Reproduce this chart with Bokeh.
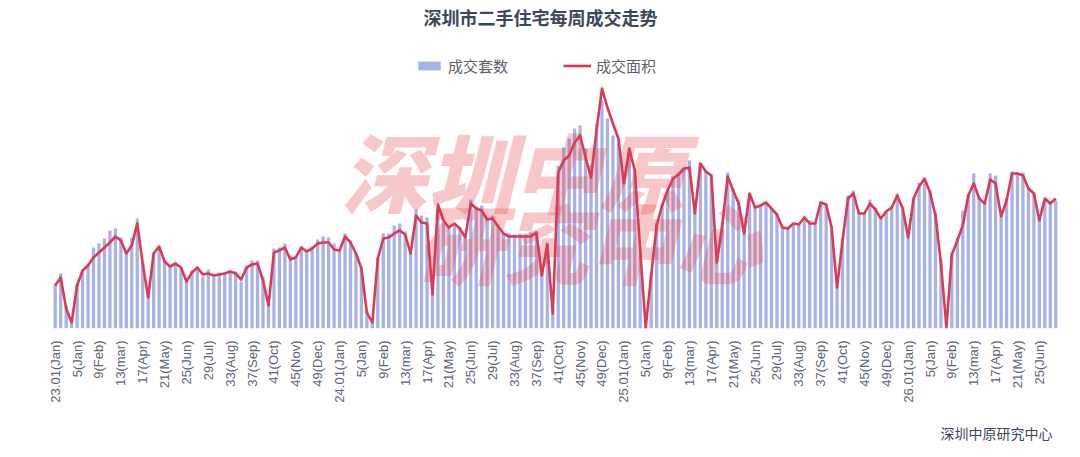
from math import pi

from bokeh.core.properties import value
from bokeh.embed import file_html
from bokeh.models import FixedTicker, Legend, LegendItem, Range1d, Title
from bokeh.plotting import figure
from bokeh.resources import INLINE

# weekly second-hand home deals, Shenzhen, 2023 wk1 .. 2026 wk28
sets = [
    450, 550, 230, 80, 450, 580, 650, 810, 850, 900,
    980, 1000, 910, 780, 910, 1100, 660, 330, 760, 800,
    680, 630, 660, 600, 480, 580, 590, 520, 590, 520,
    560, 560, 580, 570, 470, 620, 680, 680, 520, 250,
    800, 810, 850, 730, 720, 820, 760, 820, 890, 920,
    910, 850, 790, 950, 880, 750, 620, 180, 70, 710,
    950, 950, 1030, 1050, 970, 760, 1190, 1130, 1110, 360,
    1200, 1060, 1030, 1030, 1010, 920, 1290, 1220, 1230, 1110,
    1130, 1040, 950, 950, 940, 950, 940, 960, 970, 560,
    860, 180, 1630, 1810, 1900, 2000, 2030, 1800, 1630, 2050,
    2280, 2100, 1930, 1850, 1480, 1750, 1580, 730, 30, 560,
    1060, 1250, 1400, 1520, 1560, 1610, 1680, 1180, 1660, 1580,
    1540, 700, 1060, 1560, 1400, 1280, 980, 1320, 1220, 1230,
    1250, 1200, 1150, 1010, 1000, 1040, 1050, 1100, 1080, 1060,
    1270, 1240, 1030, 430, 900, 1330, 1380, 1160, 1160, 1290,
    1210, 1120, 1180, 1220, 1350, 1220, 930, 1310, 1460, 1480,
    1380, 1160, 700, 10, 760, 910, 1180, 1350, 1550, 1310,
    1260, 1550, 1530, 1140, 1300, 1570, 1560, 1560, 1410, 1360,
    1100, 1280, 1250, 1280,
]

# 成交面积, 万㎡
area = [
    4.3, 5.1, 2.0, 0.6, 4.3, 5.8, 6.3, 7.1, 7.6, 8.1,
    8.6, 9.2, 8.8, 7.5, 8.3, 10.5, 6.5, 3.1, 7.5, 8.2,
    6.7, 6.2, 6.5, 6.1, 4.7, 5.6, 6.1, 5.4, 5.5, 5.3,
    5.4, 5.5, 5.7, 5.5, 4.9, 6.1, 6.4, 6.5, 4.8, 2.3,
    7.6, 7.8, 8.1, 6.9, 7.1, 8.1, 7.7, 8.0, 8.5, 8.6,
    8.6, 7.9, 7.8, 9.2, 8.6, 7.5, 6.0, 1.6, 0.6, 7.0,
    9.0, 9.1, 9.5, 9.8, 9.4, 7.5, 11.3, 10.6, 10.5, 3.4,
    12.4, 10.8, 10.1, 10.5, 10.0, 9.1, 12.5, 12.0, 11.8, 10.9,
    11.0, 10.2, 9.5, 9.2, 9.2, 9.2, 9.2, 9.2, 9.6, 5.3,
    8.4, 1.5, 15.6, 16.8, 17.3, 18.6, 19.3, 17.1, 15.1, 19.8,
    24.0, 22.1, 20.5, 19.0, 14.5, 18.0, 15.8, 7.8, 0.1, 5.3,
    10.3, 12.3, 13.8, 15.0, 15.4, 16.0, 16.1, 11.5, 16.5, 15.7,
    15.3, 6.6, 10.3, 15.2, 13.8, 12.5, 9.5, 13.5, 12.1, 12.3,
    12.6, 12.0, 11.4, 10.1, 10.0, 10.5, 10.4, 11.1, 10.5, 10.5,
    12.6, 12.4, 10.1, 4.1, 8.8, 13.0, 13.5, 11.5, 11.5, 12.5,
    11.9, 11.0, 11.7, 12.1, 13.3, 12.0, 9.1, 13.0, 14.2, 15.0,
    13.6, 11.3, 6.5, 0.1, 7.4, 8.8, 10.3, 13.3, 14.5, 13.0,
    12.5, 14.9, 14.5, 11.2, 12.8, 15.5, 15.5, 15.3, 14.0, 13.5,
    10.8, 13.0, 12.5, 13.0,
]

tick_labels = [
    "23.01(Jan)", "5(Jan)", "9(Feb)", "13(mar)", "17(Apr)", "21(May)", "25(Jun)",
    "29(Jul)", "33(Aug)", "37(Sep)", "41(Oct)", "45(Nov)", "49(Dec)",
    "24.01(Jan)", "5(Jan)", "9(Feb)", "13(mar)", "17(Apr)", "21(May)", "25(Jun)",
    "29(Jul)", "33(Aug)", "37(Sep)", "41(Oct)", "45(Nov)", "49(Dec)",
    "25.01(Jan)", "5(Jan)", "9(Feb)", "13(mar)", "17(Apr)", "21(May)", "25(Jun)",
    "29(Jul)", "33(Aug)", "37(Sep)", "41(Oct)", "45(Nov)", "49(Dec)",
    "26.01(Jan)", "5(Jan)", "9(Feb)", "13(mar)", "17(Apr)", "21(May)", "25(Jun)",
]

weeks = list(range(len(sets)))
tick_idx = [4 * k for k in range(len(tick_labels))]

W, H = 1080, 457
LEFT, RIGHT, BASE = 52, 22, 328          # frame edges in canvas px
Y_MAX, A_MAX = 3280, 32.8
CJK = "Noto Sans CJK SC"
DARK = "#3d4759"

p = figure(width=W, height=H, title=None, tools="", toolbar_location=None,
           output_backend="svg", y_axis_location=None,
           x_range=Range1d(-0.5, len(sets) - 0.5), y_range=Range1d(0, Y_MAX),
           min_border_left=LEFT, min_border_right=RIGHT,
           min_border_top=0, min_border_bottom=H - BASE)
p.extra_y_ranges = {"area": Range1d(0, A_MAX)}

# canvas px -> data coords
step = (W - LEFT - RIGHT) / len(sets)
def sx(px):
    return (px - LEFT) / step - 0.5
def sy(py):
    return (BASE - py) * Y_MAX / BASE

bars = p.vbar(x=weeks, top=sets, width=0.6, fill_color="#a7b3e7", line_color=None)

# watermark
p.text(x=[sx(513), sx(588)], y=[sy(169), sy(240)], text=["深圳中原", "研究中心"],
       text_font=value("'Noto Sans CJK SC Black', 'Noto Sans CJK SC'"),
       text_font_size="86px", text_font_style="bold italic",
       text_color="#e8474c", text_alpha=0.3, text_align="center",
       text_baseline="middle")

line = p.line(x=weeks, y=area, y_range_name="area", line_color="#dc3a52",
              line_width=2.6, line_join="round")

p.text(x=[sx(540)], y=[sy(16)], text=["深圳市二手住宅每周成交走势"],
       text_font=value(CJK), text_font_size="18px", text_font_style="bold",
       text_color=DARK, text_align="center", text_baseline="middle")

legend = Legend(items=[LegendItem(label="成交套数", renderers=[bars]),
                       LegendItem(label="成交面积", renderers=[line])],
                orientation="horizontal", location=(363, 252),
                glyph_width=28, glyph_height=11, label_standoff=5, spacing=55,
                label_text_font=CJK, label_text_font_size="15px",
                label_text_color="#595f6b", padding=0, margin=0,
                border_line_color=None, background_fill_alpha=0)
p.add_layout(legend, "center")

p.xaxis.ticker = FixedTicker(ticks=tick_idx)
p.xaxis.major_label_overrides = dict(zip(tick_idx, tick_labels))
p.xaxis.major_label_orientation = pi / 2
p.xaxis.major_label_standoff = 6
p.xaxis.major_label_text_font = "Liberation Sans"
p.xaxis.major_label_text_font_size = "13px"
p.xaxis.major_label_text_color = "#5b6475"
p.xaxis.axis_line_color = None
p.xaxis.major_tick_line_color = None
p.xaxis.minor_tick_line_color = None
p.grid.visible = False
p.outline_line_color = None

# source note, bottom right
p.add_layout(Title(text="深圳中原研究中心", align="right", text_font=CJK,
                   text_font_size="14px", text_font_style="normal",
                   text_color=DARK, standoff=30, offset=6), "below")

open("out.html", "w").write(file_html(p, INLINE))
